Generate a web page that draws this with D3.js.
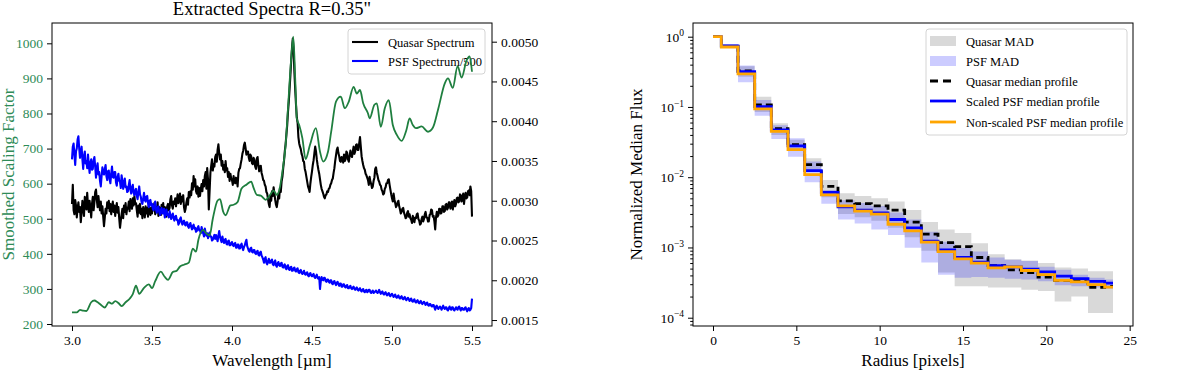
<!DOCTYPE html>
<html><head><meta charset="utf-8">
<script src="https://cdn.jsdelivr.net/npm/d3@7"></script>
<style>body{margin:0;background:#fff}svg{display:block}</style>
</head><body><svg id="c" width="1200" height="374"></svg>
<script>
// ---------- LEFT PANEL DATA ----------
const wlStart = 3.0, wlStep = 0.005;   // spectra sampling grid (µm)
const specUnit = 1e-5;                 // spectra values are given in units of 1e-5
const quasarSpec = [
296,320,288,283,301,294,279,290,298,286, 292,273,285,300,291,281,305,297,289,310,
294,286,300,291,279,296,305,288,298,311, 314,301,292,306,296,288,299,284,293,280,
268,279,290,284,298,291,300,287,296,283, 292,299,286,294,281,290,297,285,292,278,
266,275,283,290,278,294,286,297,283,291, 290,299,287,302,295,290,303,294,306,296,
297,288,280,294,285,296,283,290,278,292, 287,279,293,284,291,280,296,286,282,291,
284,295,288,297,283,291,286,298,281,292, 290,282,295,287,297,284,292,289,280,293,
296,288,291,302,306,294,290,299,296,303, 293,300,308,297,302,309,296,305,299,307,
292,286,290,298,303,295,311,304,312,307, 322,314,331,318,327,312,309,318,305,316,
306,315,321,312,326,318,331,336,315,341, 327,289,312,335,344,352,338,346,343,355,
358,349,364,371,360,352,358,344,350,339, 345,336,350,338,341,330,336,325,334,328,
326,320,331,324,322,329,327,318,335,340, 341,347,352,359,363,370,373,366,358,362,
362,354,350,358,356,347,346,354,351,343, 340,353,355,344,337,343,344,335,331,326,
325,320,318,311,309,302,296,292,306,300, 312,306,317,309,301,295,292,299,309,303,
316,311,324,330,341,350,362,371,383,395, 412,425,441,458,476,492,504,490,462,440,
421,405,398,380,372,368,365,359,356,350, 349,340,336,330,324,318,315,311,322,330,
337,345,351,360,368,362,352,345,339,334, 327,320,315,312,309,305,303,307,308,312,
311,315,316,320,322,326,328,335,341,350, 357,364,367,360,356,350,349,355,354,348,
358,350,352,362,360,352,349,356,363,357, 355,362,368,359,362,370,371,364,364,372,
380,368,356,350,345,341,339,334,332,329, 326,320,330,324,321,316,318,325,329,340,
342,335,331,326,324,320,319,314,312,308, 309,315,317,322,322,326,327,320,314,308,
303,299,309,302,297,292,294,298,300,293, 289,284,286,290,291,285,282,278,279,285,
287,280,283,278,276,272,281,276,273,279, 278,283,284,277,275,270,271,277,280,274,
277,283,286,279,279,274,274,282,283,289, 288,280,281,274,264,279,286,280,282,290,
290,284,285,293,293,286,287,295,296,289, 291,298,298,290,293,299,289,296,301,293,
296,303,304,298,299,308,307,299,302,309, 296,305,310,303,304,312,313,307,318,312,
280];
const psfSpec = [
352,368,372,358,345,362,366,377,381,366, 354,361,368,352,340,356,362,347,350,341,
358,345,335,348,352,339,340,351,355,343, 329,341,347,333,336,325,318,331,342,335,
333,340,345,331,326,337,338,327,322,334, 343,330,329,336,336,323,319,330,334,325,
324,316,332,325,315,322,328,317,318,311, 312,320,326,314,309,317,320,310,307,313,
315,306,302,311,318,308,305,298,296,303, 310,301,299,305,306,297,292,300,301,294,
296,290,288,295,299,289,285,291,293,286, 282,288,291,284,286,290,279,283,289,282,
283,279,287,282,277,281,284,278,275,280, 281,276,276,270,272,277,279,273,270,274,
275,270,269,273,273,268,266,270,272,267, 264,268,270,265,266,261,262,266,268,263,
263,259,267,262,259,255,265,260,256,259, 253,257,260,255,255,250,251,254,257,252,
257,253,249,256,262,255,251,248,255,250, 247,251,252,246,245,249,250,244,244,247,
248,244,243,246,247,241,241,245,245,240, 240,244,246,241,238,242,244,248,251,243,
240,237,236,240,241,236,235,238,238,234, 233,236,237,232,231,235,236,231,229,226,
222,227,229,222,220,224,227,222,222,225, 226,220,219,223,225,219,217,221,223,219,
218,221,222,217,216,219,220,215,214,218, 219,214,213,216,217,212,212,215,216,212,
211,214,215,210,209,212,213,209,208,210, 212,208,207,209,210,206,205,208,209,206,
205,207,208,204,203,205,207,203,202,204, 189,199,204,201,200,203,203,199,198,201,
201,198,197,200,200,196,195,198,199,196, 194,197,198,195,193,196,196,192,192,195,
195,192,191,193,194,190,190,192,193,190, 189,191,192,189,188,190,191,188,187,189,
190,187,186,188,189,186,185,187,188,185, 186,188,188,185,184,186,187,184,185,186,
187,185,184,186,188,185,183,185,186,183, 182,184,185,182,181,183,184,181,180,182,
183,181,179,181,182,179,178,180,181,178, 177,179,180,177,176,178,179,176,175,177,
178,176,174,176,177,174,173,175,176,173, 172,174,175,172,171,173,174,171,170,172,
173,171,169,171,172,169,168,170,170,168, 167,169,169,166,163,167,168,165,164,166,
167,165,163,166,168,165,164,166,166,163, 162,165,167,164,163,166,166,163,162,164,
166,164,163,166,167,164,162,165,165,163, 163,165,166,163,161,164,165,162,163,165,
177];
const scaleWl = [3.00,3.03,3.05,3.07,3.09,3.12,3.14,3.16,3.18,3.205,3.23,3.25,3.27,3.29,3.31,3.335,3.36,3.38,3.40,3.42,3.45,3.48,3.50,3.52,3.555,3.58,3.60,3.63,3.655,3.675,3.70,3.73,3.755,3.775,3.79,3.82,3.84,3.86,3.88,3.91,3.925,3.945,3.96,3.99,4.01,4.035,4.06,4.09,4.12,4.135,4.155,4.18,4.21,4.235,4.26,4.28,4.30,4.315,4.335,4.35,4.37,4.383,4.395,4.405,4.42,4.44,4.46,4.487,4.524,4.55,4.57,4.60,4.62,4.65,4.68,4.705,4.73,4.76,4.78,4.80,4.82,4.85,4.86,4.89,4.905,4.93,4.955,4.98,5.005,5.03,5.06,5.09,5.11,5.13,5.15,5.185,5.225,5.256,5.29,5.33,5.35,5.38,5.41,5.435,5.465,5.485,5.50];
const scaleFactor = [233,233,240,238,237,262,267,262,255,247,262,258,265,260,251,262,272,285,309,286,303,313,302,322,349,334,326,348,352,364,369,375,415,406,440,468,458,452,500,552,556,520,510,538,540,548,586,597,606,588,568,566,554,566,580,568,591,634,710,815,957,1019,900,786,767,729,670,710,758,691,663,691,748,834,848,815,834,876,857,867,829,800,786,825,829,762,815,838,767,739,722,753,786,767,758,763,748,760,815,886,900,873,935,902,950,963,919];
const wlTicks = [3.0,3.5,4.0,4.5,5.0,5.5];
const scaleTicks = [200,300,400,500,600,700,800,900,1000];
const fluxTicks = [0.0015,0.0020,0.0025,0.0030,0.0035,0.0040,0.0045,0.0050];

// ---------- RIGHT PANEL DATA ----------
const radius = [0,1,2,3,4,5,6,7,8,9,10,11,12,13,14,15,16,17,18,19,20,21,22,23,24];
const quasarMedian = [1.0,0.73,0.325,0.107,0.049,0.029,0.0151,0.0074,0.0046,0.0042,0.0039,0.0034,0.0023,0.00155,0.00117,0.00103,0.00072,0.00055,0.00048,0.00044,0.00038,0.00034,0.00033,0.00027,0.00028];
const psfScaledMedian = [1.0,0.74,0.318,0.101,0.047,0.028,0.0124,0.0061,0.0038,0.0034,0.0031,0.0025,0.0019,0.00123,0.00092,0.00072,0.00062,0.00055,0.00053,0.00049,0.00045,0.00039,0.00036,0.00033,0.00031];
const psfNonScaledMedian = [1.0,0.713,0.295,0.094,0.045,0.0247,0.0109,0.0056,0.0039,0.0033,0.00298,0.00214,0.00172,0.00119,0.000875,0.00069,0.000598,0.000513,0.00053,0.00047,0.00041,0.000339,0.000324,0.000295,0.000272];
const quasarMadLo = [1.0,0.70,0.27,0.085,0.040,0.024,0.012,0.0052,0.0030,0.0027,0.0024,0.0019,0.0014,0.0009,0.00044,0.00028,0.00028,0.00027,0.00027,0.00025,0.00024,0.00017,0.00020,0.000117,0.000117];
const quasarMadHi = [1.0,0.78,0.38,0.14,0.0585,0.034,0.0186,0.0091,0.0059,0.0054,0.0050,0.0045,0.0034,0.0023,0.0018,0.0016,0.00115,0.0008,0.00068,0.00065,0.0006,0.00052,0.0005,0.00046,0.00046];
const psfMadLo = [1.0,0.69,0.225,0.075,0.035,0.0196,0.0085,0.0042,0.0025,0.0022,0.0018,0.0015,0.00099,0.00061,0.00041,0.00037,0.00038,0.00037,0.00036,0.00035,0.00033,0.00029,0.00028,0.00027,0.00026];
const psfMadHi = [1.0,0.78,0.39,0.126,0.055,0.0359,0.0167,0.0066,0.0047,0.0043,0.0039,0.00315,0.0025,0.00168,0.00121,0.00098,0.000875,0.00072,0.00067,0.00064,0.00053,0.00048,0.00041,0.00037,0.00035];
const radiusTicks = [0,5,10,15,20,25];
const logTicks = [1e-4,1e-3,1e-2,1e-1,1];

// ---------- DRAW ----------
const FONT = '"Liberation Serif","DejaVu Serif",serif';
const GREEN_LINE = "#1f7f3f", GREEN_TXT = "#2e8b57";
const TICK_FS = 13.5, LABEL_FS = 17, LEG_FS = 12.5;
const svg = d3.select("#c");
svg.append("rect").attr("width",1200).attr("height",374).attr("fill","#fff");

function styleAxis(g, fs, color){
  g.select(".domain").remove();
  g.selectAll(".tick line").attr("stroke","#000").attr("stroke-width",1);
  g.selectAll(".tick text").attr("font-family",FONT).attr("font-size",fs).attr("fill",color||"#000");
  g.attr("font-family",FONT);
}

// Left panel
const L = {x0:52, x1:492, y0:23, y1:326};
const xL = d3.scaleLinear([2.875,5.625],[L.x0,L.x1]);
const yG = d3.scaleLinear([194.3,1057.9],[L.y1,L.y0]);
const yF = d3.scaleLinear([0.001425,0.005235],[L.y1,L.y0]);
const wl = quasarSpec.map((_,i)=>wlStart+i*wlStep);

svg.append("clipPath").attr("id","clipL").append("rect").attr("x",L.x0).attr("y",L.y0).attr("width",L.x1-L.x0).attr("height",L.y1-L.y0);
const gL = svg.append("g");
const plotL = gL.append("g").attr("clip-path","url(#clipL)");
const lineF = d3.line().x((d,i)=>xL(wl[i])).y(d=>yF(d*specUnit));
plotL.append("path").attr("d",lineF(quasarSpec)).attr("fill","none").attr("stroke","#000").attr("stroke-width",2.1).attr("stroke-linejoin","round");
plotL.append("path").attr("d",lineF(psfSpec)).attr("fill","none").attr("stroke","#0000ff").attr("stroke-width",2.1).attr("stroke-linejoin","round");

const legL = gL.append("g");
legL.append("rect").attr("x",348).attr("y",29).attr("width",137).attr("height",45).attr("rx",3)
  .attr("fill","#fff").attr("fill-opacity",0.8).attr("stroke","#d4d4d4").attr("stroke-width",1);
[["Quasar Spectrum","#000",42],["PSF Spectrum/500","#0000ff",61]].forEach(([t,c,y])=>{
  legL.append("line").attr("x1",352).attr("x2",378).attr("y1",y).attr("y2",y).attr("stroke",c).attr("stroke-width",2.1);
  legL.append("text").attr("x",388).attr("y",y+4.5).attr("font-family",FONT).attr("font-size",LEG_FS).text(t);
});

const lineG = d3.line().x((d,i)=>xL(scaleWl[i])).y(d=>yG(d)).curve(d3.curveMonotoneX);
gL.append("g").attr("clip-path","url(#clipL)").append("path").attr("d",lineG(scaleFactor)).attr("fill","none").attr("stroke",GREEN_LINE).attr("stroke-width",1.8);

const axB = gL.append("g").attr("transform",`translate(0,${L.y1})`).call(d3.axisBottom(xL).tickValues(wlTicks).tickFormat(d3.format(".1f")).tickSize(5).tickPadding(4));
styleAxis(axB,TICK_FS);
const axG = gL.append("g").attr("transform",`translate(${L.x0},0)`).call(d3.axisLeft(yG).tickValues(scaleTicks).tickFormat(d3.format("d")).tickSize(5).tickPadding(4));
styleAxis(axG,TICK_FS,GREEN_TXT);
const axF = gL.append("g").attr("transform",`translate(${L.x1},0)`).call(d3.axisRight(yF).tickValues(fluxTicks).tickFormat(d3.format(".4f")).tickSize(5).tickPadding(4));
styleAxis(axF,TICK_FS);
gL.append("rect").attr("x",L.x0).attr("y",L.y0).attr("width",L.x1-L.x0).attr("height",L.y1-L.y0).attr("fill","none").attr("stroke","#000").attr("stroke-width",1);
gL.append("text").attr("x",(L.x0+L.x1)/2).attr("y",15).attr("text-anchor","middle").attr("font-family",FONT).attr("font-size",18.5).text('Extracted Spectra R=0.35"');
gL.append("text").attr("x",(L.x0+L.x1)/2).attr("y",366).attr("text-anchor","middle").attr("font-family",FONT).attr("font-size",LABEL_FS).text("Wavelength [µm]");
gL.append("text").attr("transform",`translate(14,${(L.y0+L.y1)/2}) rotate(-90)`).attr("text-anchor","middle").attr("font-family",FONT).attr("font-size",LABEL_FS).attr("fill",GREEN_TXT).text("Smoothed Scaling Factor");

// Right panel
const R = {x0:693, x1:1133, y0:23, y1:326};
const xR = d3.scaleLinear([-1.2,25.2],[R.x0,R.x1]);
const yR = d3.scaleLog([Math.pow(10,-4.118),Math.pow(10,0.195)],[R.y1,R.y0]);
svg.append("clipPath").attr("id","clipR").append("rect").attr("x",R.x0).attr("y",R.y0).attr("width",R.x1-R.x0).attr("height",R.y1-R.y0);
const gR = svg.append("g");
const plotR = gR.append("g").attr("clip-path","url(#clipR)");
const band = (lo,hi)=>d3.area().x((d,i)=>xR(radius[i])).y0((d,i)=>yR(lo[i])).y1((d,i)=>yR(hi[i])).curve(d3.curveStep)(radius);
plotR.append("path").attr("d",band(quasarMadLo,quasarMadHi)).attr("fill","#808080").attr("fill-opacity",0.3);
plotR.append("path").attr("d",band(psfMadLo,psfMadHi)).attr("fill","#0000ff").attr("fill-opacity",0.2);
const stepLine = d3.line().x((d,i)=>xR(radius[i])).y(d=>yR(d)).curve(d3.curveStep);
plotR.append("path").attr("d",stepLine(quasarMedian)).attr("fill","none").attr("stroke","#000").attr("stroke-width",2.8).attr("stroke-dasharray","7,4");
plotR.append("path").attr("d",stepLine(psfScaledMedian)).attr("fill","none").attr("stroke","#0000ff").attr("stroke-width",2.8);
plotR.append("path").attr("d",stepLine(psfNonScaledMedian)).attr("fill","none").attr("stroke","#ffa500").attr("stroke-width",2.8);

const axRB = gR.append("g").attr("transform",`translate(0,${R.y1})`).call(d3.axisBottom(xR).tickValues(radiusTicks).tickFormat(d3.format("d")).tickSize(5).tickPadding(4));
styleAxis(axRB,TICK_FS);
const minor = [];
[-5,-4,-3,-2,-1].forEach(e=>{for(let k=2;k<=9;k++){const v=k*Math.pow(10,e); if(v>yR.domain()[0]&&v<yR.domain()[1]) minor.push(v);}});
const axRm = gR.append("g").attr("transform",`translate(${R.x0},0)`).call(d3.axisLeft(yR).tickValues(minor).tickFormat("").tickSize(2.8));
styleAxis(axRm,TICK_FS);
const sup = {"1":"0","0.1":"−1","0.01":"−2","0.001":"−3","0.0001":"−4"};
const axRL = gR.append("g").attr("transform",`translate(${R.x0},0)`).call(d3.axisLeft(yR).tickValues(logTicks).tickFormat(()=>"").tickSize(5).tickPadding(4));
styleAxis(axRL,TICK_FS);
axRL.selectAll(".tick text").each(function(d){
  const t = d3.select(this);
  t.append("tspan").text("10");
  t.append("tspan").attr("dy","-0.55em").attr("font-size",9.5).text(sup[String(d)]);
});
gR.append("rect").attr("x",R.x0).attr("y",R.y0).attr("width",R.x1-R.x0).attr("height",R.y1-R.y0).attr("fill","none").attr("stroke","#000").attr("stroke-width",1);
gR.append("text").attr("x",(R.x0+R.x1)/2).attr("y",366).attr("text-anchor","middle").attr("font-family",FONT).attr("font-size",LABEL_FS).text("Radius [pixels]");
gR.append("text").attr("transform",`translate(642,${(R.y0+R.y1)/2}) rotate(-90)`).attr("text-anchor","middle").attr("font-family",FONT).attr("font-size",LABEL_FS).text("Normalized Median Flux");

const legR = gR.append("g");
const lx = R.x1 - 207;
legR.append("rect").attr("x",lx).attr("y",29).attr("width",201).attr("height",106).attr("rx",3)
  .attr("fill","#fff").attr("fill-opacity",0.8).attr("stroke","#d4d4d4").attr("stroke-width",1);
legR.append("rect").attr("x",lx+4).attr("y",36).attr("width",26).attr("height",10).attr("fill","#808080").attr("fill-opacity",0.3);
legR.append("rect").attr("x",lx+4).attr("y",56).attr("width",26).attr("height",10).attr("fill","#0000ff").attr("fill-opacity",0.2);
legR.append("line").attr("x1",lx+4).attr("x2",lx+30).attr("y1",81).attr("y2",81).attr("stroke","#000").attr("stroke-width",2.8).attr("stroke-dasharray","8,5");
legR.append("line").attr("x1",lx+4).attr("x2",lx+30).attr("y1",101).attr("y2",101).attr("stroke","#0000ff").attr("stroke-width",2.8);
legR.append("line").attr("x1",lx+4).attr("x2",lx+30).attr("y1",122).attr("y2",122).attr("stroke","#ffa500").attr("stroke-width",2.8);
[["Quasar MAD",41],["PSF MAD",61],["Quasar median profile",81],["Scaled PSF median profile",101],["Non-scaled PSF median profile",122]].forEach(([t,y])=>{
  legR.append("text").attr("x",lx+40).attr("y",y+4.5).attr("font-family",FONT).attr("font-size",LEG_FS).text(t);
});
</script></body></html>
